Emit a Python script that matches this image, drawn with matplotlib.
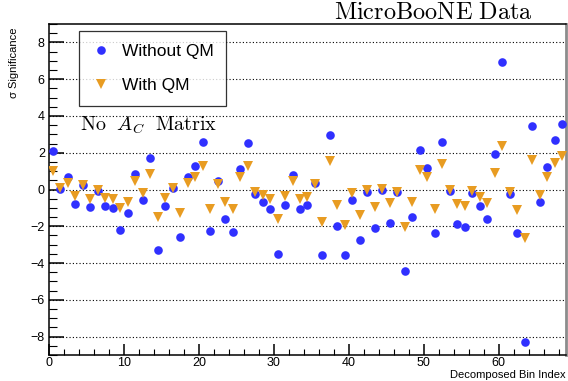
import matplotlib.pyplot as plt
import numpy as np
from matplotlib.ticker import MultipleLocator

plt.rcParams["font.family"] = ["Liberation Sans", "DejaVu Sans"]
plt.rcParams["mathtext.fontset"] = "cm"

# significance per decomposed bin (bins 0..68)
without_qm = [
    2.11, 0.02, 0.66, -0.77, 0.24, -0.95, -0.07, -0.92, -1.03, -2.18,
    -1.30, 0.84, -0.55, 1.69, -3.28, -0.90, 0.07, -2.60, 0.66, 1.28,
    2.59, -2.24, 0.46, -1.61, -2.29, 1.10, 2.55, -0.24, -0.66, -1.08,
    -3.52, -0.83, 0.81, -1.05, -0.84, 0.37, -3.58, 2.99, -1.96, -3.58,
    -0.57, -2.75, -0.15, -2.11, -0.04, -1.83, -0.15, -4.44, -1.50, 2.17,
    1.19, -2.35, 2.61, -0.07, -1.87, -2.02, -0.17, -0.88, -1.63, 1.93,
    6.95, -0.22, -2.39, -8.28, 3.45, -0.66, 1.23, 2.68, 3.56,
]
with_qm = [
    1.02, 0.10, 0.35, -0.33, 0.24, -0.50, -0.04, -0.48, -0.53, -1.00,
    -0.66, 0.47, -0.20, 0.83, -1.52, -0.44, 0.07, -1.30, 0.33, 0.70,
    1.30, -1.05, 0.28, -0.70, -1.06, 0.66, 1.28, -0.11, -0.29, -0.53,
    -1.63, -0.37, 0.46, -0.51, -0.39, 0.28, -1.78, 1.54, -0.86, -1.93,
    -0.18, -1.39, -0.04, -0.94, 0.04, -0.75, -0.11, -2.06, -0.66, 1.05,
    0.68, -1.08, 1.36, -0.02, -0.81, -0.90, -0.07, -0.42, -0.73, 0.92,
    2.35, -0.11, -1.14, -2.64, 1.63, -0.29, 0.68, 1.43, 1.80,
]
bin_index = np.arange(len(without_qm)) + 0.5

blue = "#3030ff"
orange = "#e89c22"

fig = plt.figure(figsize=(5.68, 3.81), dpi=100)
ax = fig.add_axes([49 / 568, 1 - 355 / 381, 517 / 568, 331 / 381])

for y in range(-8, 9, 2):
    ax.axhline(y, color="black", linestyle=(0, (1, 2)), linewidth=0.8, zorder=1)

ax.plot(bin_index, without_qm, "o", color=blue, markersize=6.2, markeredgewidth=0,
        label="Without QM", zorder=3)
ax.plot(bin_index, with_qm, "v", color=orange, markersize=6.5, markeredgewidth=0,
        label="With QM", zorder=4)

ax.set_xlim(0, 69)
ax.set_ylim(-9, 9)
ax.xaxis.set_major_locator(MultipleLocator(10))
ax.xaxis.set_minor_locator(MultipleLocator(2))
ax.yaxis.set_major_locator(MultipleLocator(2))
ax.yaxis.set_minor_locator(MultipleLocator(0.5))
ax.tick_params(which="both", direction="in", top=False, right=False, labelsize=9)
ax.tick_params(axis="y", which="major", length=11, width=1.1, pad=3)
ax.tick_params(axis="y", which="minor", length=5.5, width=0.8)
ax.tick_params(axis="x", which="major", length=8, width=1.1, pad=1.5)
ax.tick_params(axis="x", which="minor", length=4, width=0.8)
for side in ["left", "bottom", "top"]:
    ax.spines[side].set_linewidth(1.1)
ax.spines["right"].set_color("#8c8c8c")
ax.spines["right"].set_linewidth(2)

leg = ax.legend(loc="upper left", bbox_to_anchor=(30 / 517, 1 - 7 / 331),
                fontsize=12.5, frameon=True, fancybox=False, edgecolor="black",
                borderpad=0.75, labelspacing=1.1, handletextpad=0.7,
                handlelength=1.0, borderaxespad=0)
leg.get_frame().set_linewidth(0.9)

ax.text(31 / 517, 0.695, r"$\mathrm{No}\ \ A_C\ \ \mathrm{Matrix}$",
        transform=ax.transAxes, fontsize=14.5, ha="left", va="center")
fig.text(533 / 568, 1 - 13 / 381, r"$\mathrm{MicroBooNE\ Data}$", fontsize=17.5,
         ha="right", va="center")
fig.text(14 / 568, 1 - 28 / 381, "σ Significance", rotation=90, fontsize=8,
         ha="center", va="top")
fig.text(566 / 568, 1 - 375 / 381, "Decomposed Bin Index", fontsize=8,
         ha="right", va="center")

fig.savefig("out.png", dpi=100)
